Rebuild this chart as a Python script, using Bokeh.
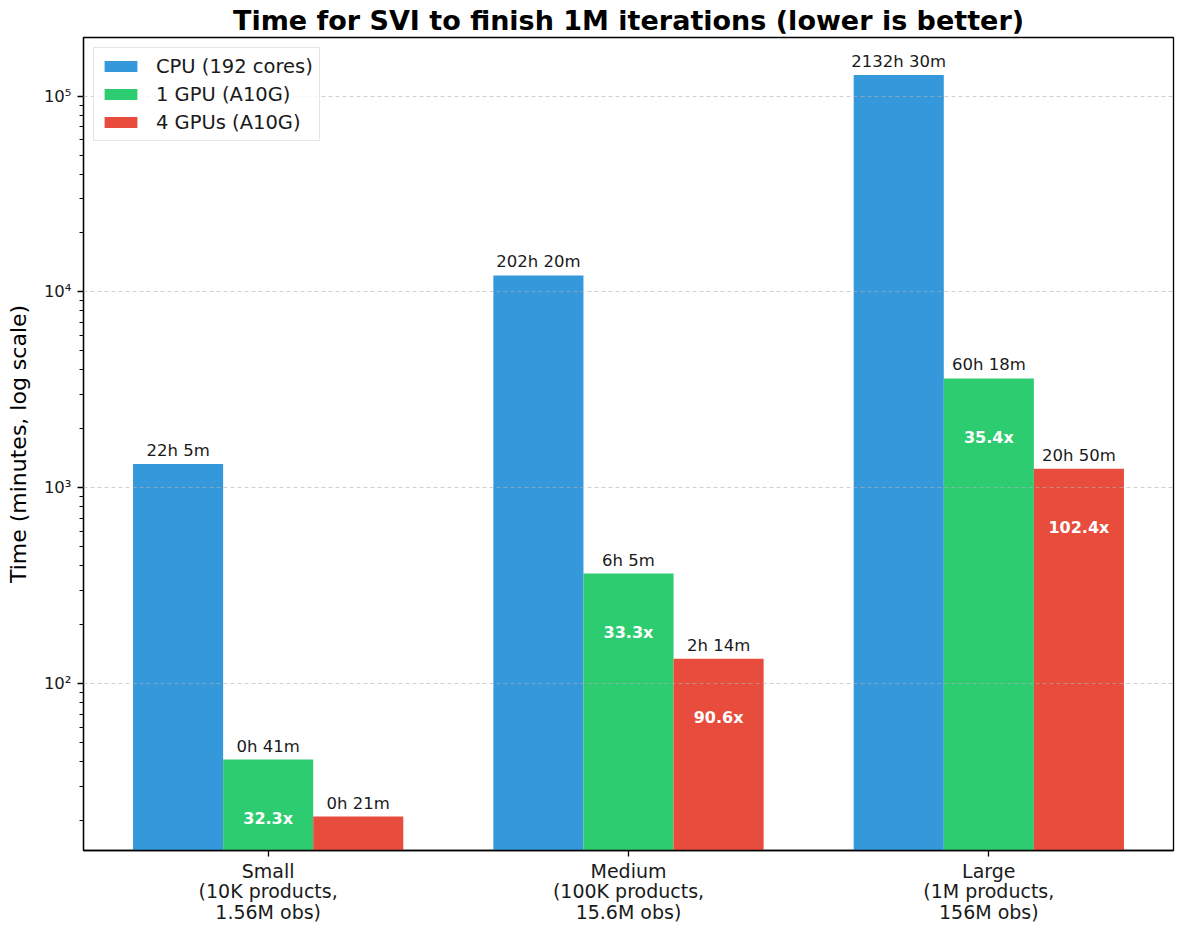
from bokeh.plotting import figure
from bokeh.models import Range1d, FixedTicker, ColumnDataSource
from bokeh.core.properties import value
from bokeh.embed import file_html
from bokeh.resources import INLINE

# ---- data (minutes) ----
categories = ["Small\n(10K products,\n1.56M obs)",
              "Medium\n(100K products,\n15.6M obs)",
              "Large\n(1M products,\n156M obs)"]
series_names = ["CPU (192 cores)", "1 GPU (A10G)", "4 GPUs (A10G)"]
cpu_minutes = [1325, 12140, 127950]
gpu1_minutes = [41, 365, 3618]
gpu4_minutes = [21, 134, 1250]
y_tick_values = [100, 1000, 10000, 100000]
y_tick_labels = ["10\u00b2", "10\u00b3", "10\u2074", "10\u2075"]
colors = ["#3498db", "#2ecc71", "#e74c3c"]

FONT = "DejaVu Sans"
Y_MIN, Y_MAX = 14.09, 1.99e5
BAR_W = 0.25

p = figure(width=1184, height=926, y_axis_type="log",
           x_range=Range1d(-0.5125, 2.5125), y_range=Range1d(Y_MIN, Y_MAX),
           output_backend="svg", toolbar_location=None,
           min_border_left=83, min_border_right=11, min_border_top=0,
           min_border_bottom=60,
           title="Time for SVI to finish 1M iterations (lower is better)")

p.title.text_font = FONT
p.title.text_font_size = "27px"
p.title.text_font_style = "bold"
p.title.align = "center"
p.title.text_color = "black"
p.title.standoff = 4

series = [cpu_minutes, gpu1_minutes, gpu4_minutes]
offsets = [-BAR_W, 0.0, BAR_W]
xs_idx = list(range(len(categories)))

def fmt(m):
    return f"{int(m // 60)}h {int(round(m % 60))}m"

for vals, off, col, name in zip(series, offsets, colors, series_names):
    src = ColumnDataSource(dict(x=[i + off for i in xs_idx], top=vals,
                                bottom=[1.0] * len(vals),
                                label=[fmt(v) for v in vals]))
    p.vbar(x="x", top="top", bottom="bottom", width=BAR_W, source=src,
           fill_color=col, line_color=None, legend_label=name)
    p.text(x="x", y="top", text="label", source=src,
           text_font=value(FONT), text_font_size="16.5px", text_color="#1a1a1a",
           text_align="center", text_baseline="bottom", y_offset=-4)

# speedup labels inside GPU bars
sp_x, sp_y, sp_t = [], [], []
for vals, off in zip(series[1:], offsets[1:]):
    for i, (c, g) in enumerate(zip(cpu_minutes, vals)):
        yv = g / 2.0
        if yv > Y_MIN:
            sp_x.append(i + off)
            sp_y.append(yv)
            sp_t.append(f"{c / g:.1f}x")
p.text(x=sp_x, y=sp_y, text=sp_t, text_font=value(FONT),
       text_font_size="16px", text_font_style="bold", text_color="white",
       text_align="center", text_baseline="middle")

# axes
minor = [k * 10 ** d for d in range(1, 6) for k in range(2, 10)
         if Y_MIN <= k * 10 ** d <= Y_MAX]
p.yaxis.ticker = FixedTicker(ticks=y_tick_values, minor_ticks=minor)
p.yaxis.major_label_overrides = {v: l for v, l in zip(y_tick_values, y_tick_labels)}
p.xaxis.ticker = FixedTicker(ticks=xs_idx)
p.xaxis.major_label_overrides = {i: c for i, c in zip(xs_idx, categories)}

for ax in (p.xaxis, p.yaxis):
    ax.axis_line_color = "black"
    ax.axis_line_width = 1.3
    ax.major_tick_line_color = "black"
    ax.major_tick_line_width = 1.3
    ax.major_tick_in = 0
    ax.major_tick_out = 6
    ax.major_label_text_font = FONT
    ax.major_label_text_color = "#1a1a1a"
p.xaxis.minor_tick_line_color = None
p.xaxis.major_label_text_font_size = "19px"
p.xaxis.major_label_text_line_height = 0.95
p.xaxis.major_label_standoff = 3
p.yaxis.minor_tick_line_color = "black"
p.yaxis.minor_tick_line_width = 1.0
p.yaxis.minor_tick_in = 0
p.yaxis.minor_tick_out = 4
p.yaxis.major_label_text_font_size = "16.5px"
p.yaxis.major_label_standoff = 6
p.yaxis.axis_label = "Time (minutes, log scale)"
p.yaxis.axis_label_text_font = FONT
p.yaxis.axis_label_text_font_size = "22px"
p.yaxis.axis_label_text_font_style = "normal"
p.yaxis.axis_label_text_color = "black"
p.yaxis.axis_label_standoff = 10

p.outline_line_color = "black"
p.outline_line_width = 1.3

p.xgrid.visible = False
p.ygrid.grid_line_color = "#b0b0b0"
p.ygrid.grid_line_alpha = 0.6
p.ygrid.grid_line_dash = "4 3"
p.ygrid.grid_line_width = 1
p.ygrid.level = "guide"

lg = p.legend[0]
lg.location = "top_left"
lg.margin = 10
lg.padding = 6
lg.spacing = 4
lg.label_height = 24
lg.glyph_width = 41
lg.glyph_height = 14
lg.label_standoff = 15
lg.label_text_font = FONT
lg.label_text_font_size = "19.5px"
lg.label_text_color = "#1a1a1a"
lg.border_line_color = "#cccccc"
lg.border_line_width = 1
lg.background_fill_alpha = 0.8

open("out.html", "w").write(file_html(p, INLINE))
